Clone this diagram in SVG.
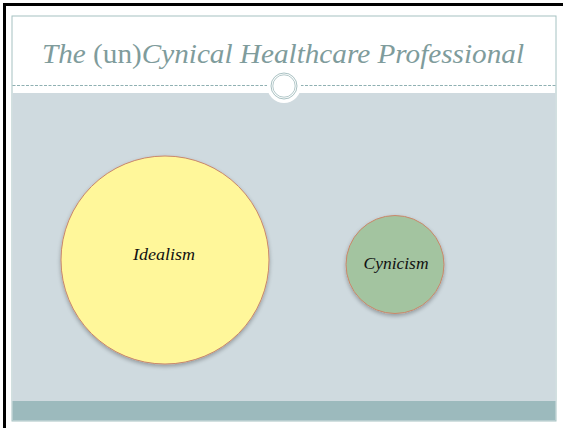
<svg xmlns="http://www.w3.org/2000/svg" width="563" height="428" viewBox="0 0 563 428">
  <defs>
    <style>
      .title { font-family: "Liberation Serif", "DejaVu Serif", serif; font-style: italic; fill: #7f9c9c; }
      .lbl { font-family: "Liberation Serif", "DejaVu Serif", serif; font-style: italic; font-size: 16px; fill: #111; text-anchor: middle; }
      .node { stroke: #c9876a; stroke-width: 1; }
    </style>
    <filter id="sh" x="-20%" y="-20%" width="140%" height="140%">
      <feGaussianBlur in="SourceAlpha" stdDeviation="2"/>
      <feOffset dy="2" result="b"/>
      <feComponentTransfer><feFuncA type="linear" slope="0.3"/></feComponentTransfer>
      <feMerge><feMergeNode/><feMergeNode in="SourceGraphic"/></feMerge>
    </filter>
  </defs>
  <rect width="563" height="428" fill="#ffffff"/>
  <path d="M4.5 428 V4.5 H563" fill="none" stroke="#000" stroke-width="3"/>
  <g id="slide">
    <rect x="12" y="16" width="544" height="405" fill="#ffffff" stroke="#a5c2c2" stroke-width="1"/>
    <rect x="12.5" y="93" width="543" height="308" fill="#cfdadf"/>
    <rect x="12.5" y="401" width="543" height="19.5" fill="#9cbabd"/>
    <line x1="12.5" y1="85.5" x2="555.5" y2="85.5" stroke="#8fb0b2" stroke-width="1" stroke-dasharray="3,1.5"/>
    <circle cx="284" cy="86" r="17" fill="#ffffff"/>
    <circle cx="284" cy="86" r="13" fill="#ffffff" stroke="#93b1b3" stroke-width="0.8"/>
    <circle cx="284" cy="86" r="11.2" fill="none" stroke="#93b1b3" stroke-width="0.7"/>
    <text class="title" x="283" y="63" font-size="28" text-anchor="middle" textLength="482" lengthAdjust="spacingAndGlyphs">The <tspan font-style="normal">(un)</tspan>Cynical Healthcare Professional</text>
  </g>
  <g id="idealism">
    <circle class="node" cx="165" cy="260" r="104" fill="#fff79a" filter="url(#sh)"/>
    <text class="lbl" x="164" y="260" textLength="62" lengthAdjust="spacingAndGlyphs">Idealism</text>
  </g>
  <g id="cynicism">
    <circle class="node" cx="395" cy="264.5" r="49" fill="#a3c4a0" filter="url(#sh)"/>
    <text class="lbl" x="396" y="269" textLength="65" lengthAdjust="spacingAndGlyphs">Cynicism</text>
  </g>
  <g id="connectors"/>
</svg>
